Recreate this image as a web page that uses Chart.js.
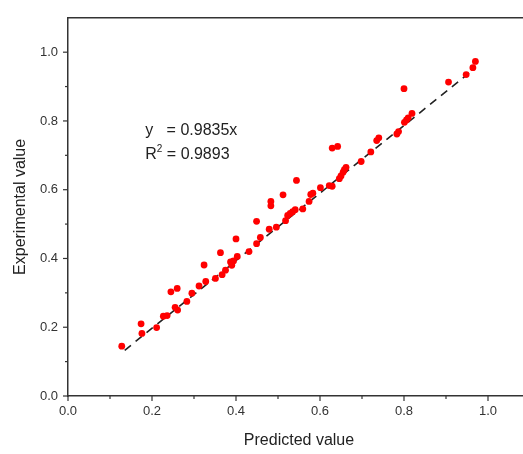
<!DOCTYPE html>
<html>
<head>
<meta charset="utf-8">
<script src="https://cdn.jsdelivr.net/npm/chart.js@4.4.1/dist/chart.umd.min.js"></script>
<style>
  html, body { margin: 0; padding: 0; background: #fff; overflow: hidden; }
  #wrap { width: 540px; height: 454px; }
</style>
</head>
<body>
<div id="wrap"><canvas id="chart" width="540" height="454"></canvas></div>
<script>
// Datos
const predictedX = [0.128, 0.174, 0.176, 0.211, 0.227, 0.236, 0.245, 0.260, 0.255, 0.261,
  0.283, 0.295, 0.312, 0.324, 0.328, 0.351, 0.363, 0.367, 0.375, 0.387,
  0.390, 0.394, 0.400, 0.403, 0.431, 0.449, 0.449, 0.458, 0.479, 0.483,
  0.483, 0.496, 0.512, 0.518, 0.523, 0.529, 0.535, 0.541, 0.544, 0.559,
  0.574, 0.578, 0.583, 0.601, 0.622, 0.629, 0.629, 0.642, 0.646, 0.650,
  0.655, 0.658, 0.662, 0.698, 0.721, 0.735, 0.740, 0.783, 0.787, 0.800,
  0.801, 0.806, 0.810, 0.819, 0.906, 0.948, 0.964, 0.970];
const experimentalY = [0.145, 0.210, 0.182, 0.199, 0.232, 0.234, 0.303, 0.313, 0.258, 0.250,
  0.275, 0.299, 0.320, 0.381, 0.333, 0.342, 0.417, 0.353, 0.366, 0.390,
  0.380, 0.393, 0.457, 0.406, 0.420, 0.443, 0.508, 0.461, 0.485, 0.553,
  0.566, 0.491, 0.585, 0.510, 0.525, 0.531, 0.536, 0.542, 0.627, 0.544,
  0.566, 0.586, 0.590, 0.606, 0.612, 0.610, 0.721, 0.726, 0.632, 0.640,
  0.651, 0.658, 0.665, 0.682, 0.710, 0.743, 0.751, 0.762, 0.769, 0.894,
  0.796, 0.803, 0.809, 0.822, 0.913, 0.935, 0.955, 0.973];

// Recta de ajuste y = 0.9835x
const fitX = [0.135, 0.970];
const fitY = [0.133, 0.954];
const fitText = ['y   = 0.9835x', 'R', '2', ' = 0.9893'];

const FONT = "'Liberation Sans', Arial, sans-serif";
const AXIS_COLOR = '#333333';

// Ticks mayores y menores dibujados a mano sobre las escalas
const axisTicks = {
  id: 'axisTicks',
  afterDraw(chart) {
    const ctx = chart.ctx;
    const area = chart.chartArea;
    const xs = chart.scales.x, ys = chart.scales.y;
    ctx.save();
    ctx.strokeStyle = AXIS_COLOR;
    ctx.lineWidth = 1.5;
    // marco superior
    ctx.beginPath();
    ctx.moveTo(area.left, area.top);
    ctx.lineTo(area.right, area.top);
    ctx.stroke();
    ctx.lineWidth = 1.2;
    for (let i = 0; i <= 10; i++) {
      const len = i % 2 === 0 ? 5 : 3;
      const px = xs.getPixelForValue(i / 10);
      ctx.beginPath();
      ctx.moveTo(px, area.bottom);
      ctx.lineTo(px, area.bottom + len);
      ctx.stroke();
      const py = ys.getPixelForValue(i / 10);
      ctx.beginPath();
      ctx.moveTo(area.left, py);
      ctx.lineTo(area.left - len, py);
      ctx.stroke();
    }
    // texto de la ecuación (R con superíndice)
    ctx.fillStyle = '#222';
    ctx.textBaseline = 'alphabetic';
    const tx = xs.getPixelForValue(0.184);
    const y1 = ys.getPixelForValue(0.76);
    const y2 = ys.getPixelForValue(0.688);
    ctx.font = '16px ' + FONT;
    ctx.fillText(fitText[0], tx, y1);
    ctx.fillText(fitText[1], tx, y2);
    let w = ctx.measureText(fitText[1]).width;
    ctx.font = '10px ' + FONT;
    ctx.fillText(fitText[2], tx + w, y2 - 7);
    w += ctx.measureText(fitText[2]).width;
    ctx.font = '16px ' + FONT;
    ctx.fillText(fitText[3], tx + w, y2);
    ctx.restore();
  }
};

const ctx = document.getElementById('chart').getContext('2d');
new Chart(ctx, {
  type: 'scatter',
  data: {
    datasets: [{
      label: 'Datos',
      data: predictedX.map((x, i) => ({ x: x, y: experimentalY[i] })),
      backgroundColor: '#ff0000',
      borderColor: '#ff0000',
      pointRadius: 3.4,
      borderWidth: 0
    }, {
      label: 'Ajuste',
      type: 'line',
      data: fitX.map((x, i) => ({ x: x, y: fitY[i] })),
      borderColor: '#222222',
      borderWidth: 1.6,
      borderDash: [8, 6],
      pointRadius: 0,
      fill: false
    }]
  },
  options: {
    responsive: false,
    animation: false,
    layout: { padding: { top: 15, right: 10, left: 0, bottom: 0 } },
    plugins: { legend: { display: false }, tooltip: { enabled: false } },
    scales: {
      x: {
        type: 'linear',
        min: 0, max: 1.1,
        afterFit: s => { s.height = 58; },
        border: { display: true, color: AXIS_COLOR, width: 1.5 },
        grid: { display: false, drawTicks: false },
        ticks: {
          stepSize: 0.2,
          padding: 8,
          color: '#333',
          font: { family: FONT, size: 13 },
          callback: v => (v > 1.05 ? '' : v.toFixed(1))
        },
        title: {
          display: true, text: 'Predicted value', color: '#222',
          font: { family: FONT, size: 16 }, padding: { top: 6 }
        }
      },
      y: {
        type: 'linear',
        min: 0, max: 1.1,
        afterFit: s => { s.width = 68; },
        border: { display: true, color: AXIS_COLOR, width: 1.5 },
        grid: { display: false, drawTicks: false },
        ticks: {
          stepSize: 0.2,
          padding: 10,
          color: '#333',
          font: { family: FONT, size: 13 },
          callback: v => (v > 1.05 ? '' : v.toFixed(1))
        },
        title: {
          display: true, text: 'Experimental value', color: '#222',
          font: { family: FONT, size: 16 }, padding: { top: 11, bottom: 0 }
        }
      }
    }
  },
  plugins: [axisTicks]
});
</script>
</body>
</html>
